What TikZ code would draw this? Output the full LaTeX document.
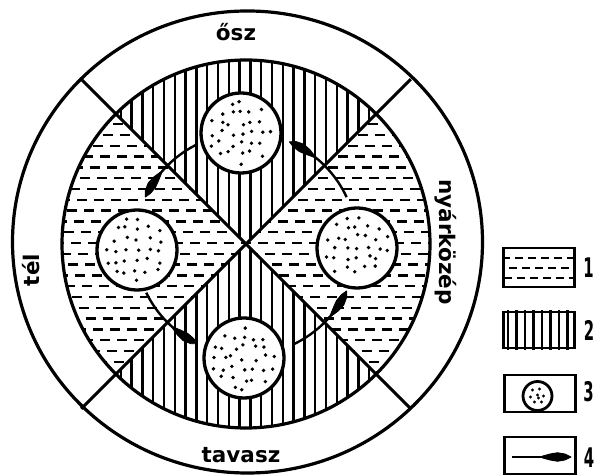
\documentclass[tikz,border=0pt]{standalone}
\usepackage{fontspec}
\setmainfont{DejaVu Sans}
\usetikzlibrary{arrows.meta}
\begin{document}
\begin{tikzpicture}[x=1pt,y=1pt,
  hatch/.style={line width=2.4pt},
  dashrow/.style={line width=2.4pt, dash pattern=on 10pt off 7pt},
  sepline/.style={line width=3pt},
  ring/.style={line width=3.2pt},
  sand/.style={circle, draw, line width=3.3pt, fill=white, minimum size=80pt, inner sep=0pt},
  flow/.style={line width=2.4pt},
  spindle/.style={fill=black, draw=black, line width=0.8pt, line join=round},
  lab/.style={font=\bfseries\fontsize{21.5}{26}\selectfont, inner sep=0pt},
  legbox/.style={draw, line width=2.8pt, minimum width=71pt, inner sep=0pt},
  legnum/.style={font=\bfseries\fontsize{27}{30}\selectfont, xscale=0.55, inner sep=0pt},
  dot/.style={fill=black}
]
\useasboundingbox (0,0) rectangle (597,476);
\coordinate (C) at (246,232);
\coordinate (O) at (247.5,234);

% vertical hatching: top and bottom quadrants
\begin{scope}
\clip (C) -- ([shift={(45:184)}]C) arc[start angle=45,end angle=135,radius=184] -- cycle
      (C) -- ([shift={(225:184)}]C) arc[start angle=225,end angle=315,radius=184] -- cycle;
\foreach \i in {-8,...,27} \draw[hatch] ({131.5+10.8*\i},40) -- ({131.5+10.8*\i},425);
\end{scope}

% dashes: left and right quadrants
\begin{scope}
\clip (C) -- ([shift={(135:184)}]C) arc[start angle=135,end angle=225,radius=184] -- cycle
      (C) -- ([shift={(-45:184)}]C) arc[start angle=-45,end angle=45,radius=184] -- cycle;
\foreach \j in {-18,...,18} {
  \pgfmathsetmacro\ph{mod(\j*7+200,17)}
  \draw[dashrow, dash phase=\ph pt] (50,{233+10.8*\j}) -- (440,{233+10.8*\j});
}
\end{scope}

% separators
\draw[sepline] ([shift={(45:233)}]C) -- ([shift={(225:233)}]C);
\draw[sepline] ([shift={(135:233)}]C) -- ([shift={(315:233)}]C);

% circles
\draw[ring] (C) circle[radius=184];
\draw[ring] (O) ellipse[x radius=235, y radius=231];

% flow arrows with spindle-shaped heads
\foreach \s/\e [count=\n] in {117/155, 206/244, 295/335, 25/67} {
  \coordinate (f\n) at ([shift={(\s:111)}]C);
  \coordinate (g\n) at ([shift={(\e:111)}]C);
  \draw[flow] (f\n) arc[start angle=\s, end angle={\e-8}, radius=111];
  \fill[spindle] (g\n)
     -- ([shift={({\e-3}:114)}]C) -- ([shift={({\e-7}:115.3)}]C) -- ([shift={({\e-11}:114)}]C)
     -- ([shift={({\e-15}:111.8)}]C) -- ([shift={({\e-15}:110.2)}]C)
     -- ([shift={({\e-11}:108)}]C) -- ([shift={({\e-7}:106.7)}]C) -- ([shift={({\e-3}:108)}]C)
     -- cycle;
}

% sand circles
\node[sand] (sTop) at (241,343) {};
\node[sand] (sLeft) at (137,226) {};
\node[sand] (sBot) at (244,118) {};
\node[sand] (sRight) at (357,228) {};

\pgfmathsetseed{12345}
\foreach \c in {sTop,sLeft,sBot,sRight} {
 \foreach \i in {-3,...,3} { \foreach \j in {-3,...,3} {
   \pgfmathsetmacro\dx{\i*10.5+(rnd-0.5)*6}
   \pgfmathsetmacro\dy{\j*10.5+(rnd-0.5)*6}
   \pgfmathsetmacro\dd{veclen(\dx,\dy)}
   \ifdim\dd pt<33pt \fill[dot] ([shift={(\dx,\dy)}]\c) circle[radius=1.9]; \fi
 }}
}

% ring labels
\node[lab] (tOsz) at (236,444) {ősz};
\node[lab] (tTav) at (241,21) {tavasz};
\node[lab, rotate=-90] (tNyar) at (446,234) {nyárközép};
\node[lab, rotate=90] (tTel) at (31,206) {tél};

% legend
\node[legbox, minimum height=39pt] (L1) at (539,208.5) {};
\node[legbox, minimum height=36pt] (L2) at (539,146) {};
\node[legbox, minimum height=37pt] (L3) at (540,82.5) {};
\node[legbox, minimum height=37pt] (L4) at (540,20.5) {};

\begin{scope}
\clip (L1.south west) rectangle (L1.north east);
\foreach \yy/\ph in {218/3, 208/9, 198/1}
  \draw[line width=2.2pt, dash pattern=on 8pt off 5pt, dash phase=\ph pt] (505,\yy) -- (575,\yy);
\end{scope}

\begin{scope}
\clip (L2.south west) rectangle (L2.north east);
\foreach \xx in {508,516.5,...,575} \draw[line width=2.2pt] (\xx,120) -- (\xx,170);
\end{scope}

\node[circle, draw, line width=2.8pt, minimum size=29pt, inner sep=0pt, fill=white] (L3c) at (537.5,80) {};
\foreach \dx/\dy in {-5/6, 2/7, -7/-1, 0/1, 6/0, -3/-6, 4/-6, 1/-2}
  \fill[dot] ([shift={(\dx,\dy)}]L3c) circle[radius=1.6];

\coordinate (L4a) at (512,19);
\coordinate (L4b) at (571,19);
\draw[flow] (L4a) -- ([xshift=-14pt]L4b);
\fill[spindle] (L4b) -- ([shift={(-6,3)}]L4b) -- ([shift={(-13.5,4.3)}]L4b) -- ([shift={(-21,3)}]L4b)
   -- ([shift={(-29,0.8)}]L4b) -- ([shift={(-29,-0.8)}]L4b)
   -- ([shift={(-21,-3)}]L4b) -- ([shift={(-13.5,-4.3)}]L4b) -- ([shift={(-6,-3)}]L4b) -- cycle;

\node[legnum] (n1) at (588.5,208) {1};
\node[legnum] (n2) at (589,146) {2};
\node[legnum] (n3) at (588.5,84) {3};
\node[legnum] (n4) at (589,18) {4};
\end{tikzpicture}
\end{document}
